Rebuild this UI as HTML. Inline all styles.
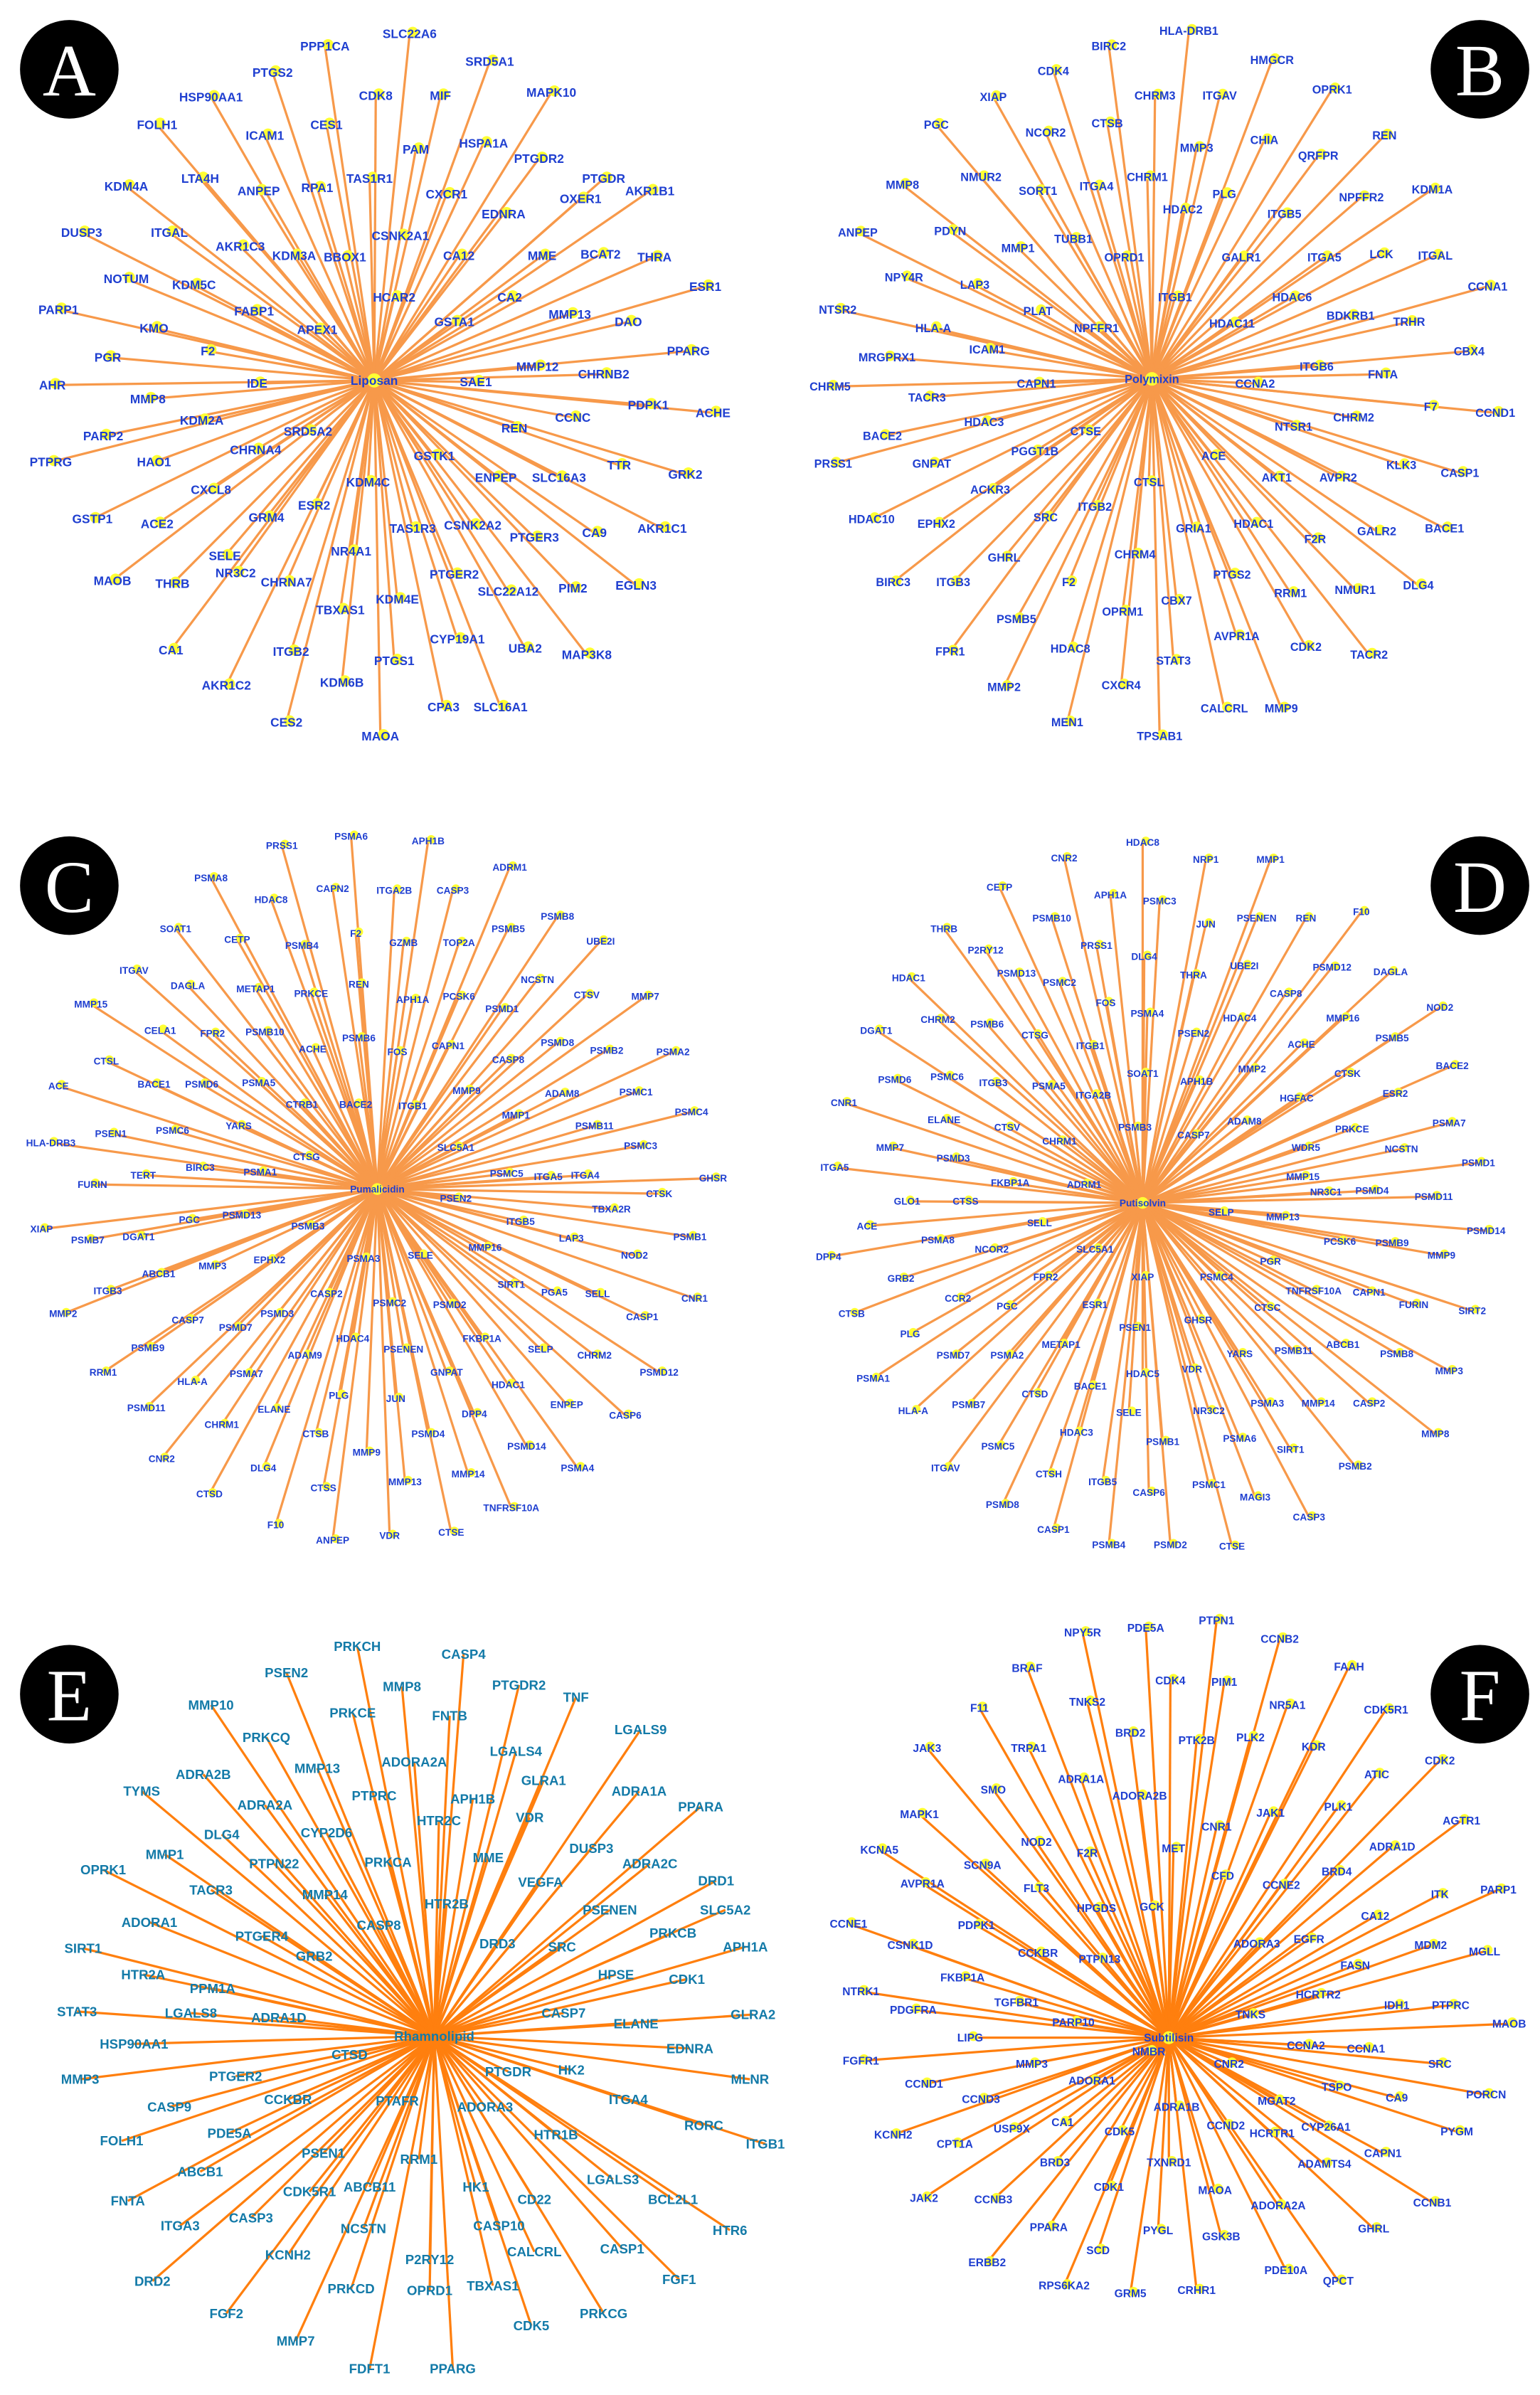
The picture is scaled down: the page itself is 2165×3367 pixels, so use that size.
<!DOCTYPE html>
<html><head><meta charset="utf-8"><style>
html,body{margin:0;padding:0;background:#fff}
svg{display:block}
</style></head><body>
<svg id="s" xmlns="http://www.w3.org/2000/svg" width="2165" height="3367" viewBox="0 0 1000 1555" preserveAspectRatio="none">
<rect width="1000" height="1555" fill="#fff"/>
<g id="L"></g><g id="N"></g><g id="T" font-family="Liberation Sans, Arial, sans-serif" font-weight="bold" text-anchor="middle"></g>
</svg>
<script>
var P=[
{h:[243,247],name:"Liposan",fs:8,col:"#1f3fd0",lc:"#f7994a",r:3.6,d:"PPP1CA 211,30;SLC22A6 266,22;PTGS2 177,47;CDK8 244,62;MIF 286,62;SRD5A1 318,40;MAPK10 358,60;HSP90AA1 137,63;CES1 212,81;ICAM1 172,88;PAM 270,97;HSPA1A 314,93;PTGDR 392,116;FOLH1 102,81;LTA4H 130,116;ANPEP 168,124;RPA1 206,122;TAS1R1 240,116;CXCR1 290,126;PTGDR2 350,103;OXER1 377,129;AKR1B1 422,124;KDM4A 82,121;ITGAL 110,151;AKR1C3 156,160;KDM3A 191,166;BBOX1 224,167;CSNK2A1 260,153;CA12 298,166;EDNRA 327,139;MME 352,166;BCAT2 390,165;THRA 425,167;DUSP3 53,151;NOTUM 82,181;KDM5C 126,185;FABP1 165,202;APEX1 206,214;HCAR2 256,193;GSTA1 295,209;CA2 331,193;MMP13 370,204;ESR1 458,186;DAO 408,209;PARP1 38,201;KMO 100,213;F2 135,228;PPARG 447,228;MMP12 349,238;CHRNB2 392,243;PGR 70,232;IDE 167,249;SAE1 309,248;PDPK1 421,263;ACHE 463,268;AHR 34,250;MMP8 96,259;KDM2A 131,273;SRD5A2 200,280;CCNC 372,271;REN 334,278;PARP2 67,283;HAO1 100,300;CHRNA4 166,292;TTR 402,302;GRK2 445,308;PTPRG 33,300;CXCL8 137,318;ESR2 204,328;KDM4C 239,313;GSTK1 282,296;ENPEP 322,310;SLC16A3 363,310;GSTP1 60,337;ACE2 102,340;GRM4 173,336;TAS1R3 268,343;CSNK2A2 307,341;CA9 386,346;AKR1C1 430,343;SELE 146,361;NR4A1 228,358;PTGER3 347,349;PIM2 372,382;EGLN3 413,380;MAOB 73,377;THRB 112,379;NR3C2 153,372;CHRNA7 186,378;KDM4E 258,389;PTGER2 295,373;SLC22A12 330,384;TBXAS1 221,396;CYP19A1 297,415;UBA2 341,421;MAP3K8 381,425;CA1 111,422;ITGB2 189,423;PTGS1 256,429;KDM6B 222,443;AKR1C2 147,445;CPA3 288,459;SLC16A1 325,459;CES2 186,469;MAOA 247,478"},
{h:[748,246],name:"Polymixin",fs:7.5,col:"#1f3fd0",lc:"#f7994a",r:3.4,d:"HLA-DRB1 772,20;BIRC2 720,30;CDK4 684,46;CHRM3 750,62;ITGAV 792,62;HMGCR 826,39;OPRK1 865,58;XIAP 645,63;CTSB 719,80;MMP3 777,96;CHIA 821,91;REN 899,88;PGC 608,81;NCOR2 679,86;CHRM1 745,115;ITGA4 712,121;PLG 795,126;QRFPR 856,101;NPFFR2 884,128;NMUR2 637,115;SORT1 674,124;HDAC2 768,136;ITGB5 834,139;KDM1A 930,123;MMP8 586,120;MMP1 661,161;TUBB1 697,155;GALR1 806,167;ITGA5 860,167;LCK 897,165;ITGAL 932,166;PDYN 617,150;OPRD1 730,167;HDAC6 839,193;ANPEP 557,151;NPY4R 587,180;LAP3 633,185;ITGB1 763,193;HDAC11 800,210;BDKRB1 877,205;CCNA1 966,186;PLAT 674,202;TRHR 915,209;NTSR2 544,201;HLA-A 606,213;NPFFR1 712,213;CBX4 954,228;ICAM1 641,227;ITGB6 855,238;FNTA 898,243;MRGPRX1 576,232;CAPN1 673,249;CCNA2 815,249;F7 929,264;CCND1 971,268;CHRM5 539,251;TACR3 602,258;HDAC3 639,274;NTSR1 840,277;CHRM2 879,271;BACE2 573,283;CTSE 705,280;KLK3 910,302;CASP1 948,307;PGGT1B 672,293;ACE 788,296;AKT1 829,310;AVPR2 869,310;PRSS1 541,301;GNPAT 605,301;ACKR3 643,318;CTSL 746,313;BACE1 938,343;ITGB2 711,329;HDAC1 814,340;GALR2 894,345;HDAC10 566,337;EPHX2 608,340;SRC 679,336;GRIA1 775,343;F2R 854,350;CHRM4 737,360;DLG4 921,380;BIRC3 580,378;ITGB3 619,378;GHRL 652,362;F2 694,378;PTGS2 800,373;RRM1 838,385;NMUR1 880,383;CBX7 764,390;AVPR1A 803,413;PSMB5 660,402;HDAC8 695,421;OPRM1 729,397;CDK2 848,420;TACR2 889,425;FPR1 617,423;STAT3 762,429;MMP2 652,446;CXCR4 728,445;CALCRL 795,460;MMP9 832,460;MEN1 693,469;TPSAB1 753,478"},
{h:[245,772],name:"Pumalicidin",fs:6.3,col:"#1f3fd0",lc:"#f7994a",r:2.8,d:"PSMA6 228,543;APH1B 278,546;PRSS1 183,549;ADRM1 331,563;PSMA8 137,570;CAPN2 216,577;ITGA2B 256,578;CASP3 294,578;HDAC8 176,584;PSMB8 362,595;F2 231,606;GZMB 262,612;TOP2A 298,612;PSMB5 330,603;UBE2I 390,611;SOAT1 114,603;PSMB4 196,614;CETP 154,610;REN 233,639;PCSK6 298,647;NCSTN 349,636;ITGAV 87,630;DAGLA 122,640;METAP1 166,642;PRKCE 202,645;APH1A 268,649;CTSV 381,646;MMP7 419,647;MMP15 59,652;CELA1 104,669;FPR2 138,671;PSMB10 172,670;ACHE 203,681;PSMB6 233,674;FOS 258,683;CAPN1 291,679;PSMD1 326,655;PSMD8 362,677;PSMB2 394,682;PSMA2 437,683;CTSL 69,689;BACE1 100,704;PSMD6 131,704;PSMA5 168,703;MMP9 303,708;CASP8 330,688;ADAM8 365,710;PSMC1 413,709;CTRB1 196,717;BACE2 231,717;ITGB1 268,718;MMP1 335,724;PSMB11 386,731;PSMC4 449,722;ACE 38,705;PSEN1 72,736;PSMC6 112,734;YARS 155,731;CTSG 199,751;SLC5A1 296,745;PSMC3 416,744;HLA-DRB3 33,742;BIRC3 130,758;PSMA1 169,761;PSMC5 329,762;ITGA5 356,764;ITGA4 380,763;GHSR 463,765;FURIN 60,769;TERT 93,763;PSEN2 296,778;TBXA2R 397,785;CTSK 428,775;XIAP 27,798;PSMB7 57,805;DGAT1 90,803;PGC 123,792;PSMD13 157,789;PSMB3 200,796;ITGB5 338,793;LAP3 371,804;PSMB1 448,803;ITGB3 70,838;ABCB1 103,827;MMP3 138,822;EPHX2 175,818;PSMA3 236,817;SELE 273,815;MMP16 315,810;NOD2 412,815;SIRT1 332,834;PGA5 360,839;SELL 388,840;CNR1 451,843;MMP2 41,853;CASP7 122,857;PSMD7 153,862;CASP2 212,840;PSMD3 180,853;PSMC2 253,846;PSMD2 292,847;CASP1 417,855;PSMB9 96,875;HDAC4 229,869;PSENEN 262,876;FKBP1A 313,869;SELP 351,876;CHRM2 386,880;PSMD12 428,891;RRM1 67,891;HLA-A 125,897;PSMA7 160,892;ADAM9 198,880;GNPAT 290,891;HDAC1 330,899;ENPEP 368,912;CASP6 406,919;PSMD11 95,914;CHRM1 144,925;ELANE 178,915;PLG 220,906;JUN 257,908;DPP4 308,918;CTSB 205,931;PSMD4 278,931;PSMD14 342,939;CNR2 105,947;DLG4 171,953;MMP9 238,943;CTSS 210,966;MMP13 263,962;MMP14 304,957;PSMA4 375,953;CTSD 136,970;F10 179,990;ANPEP 216,1000;VDR 253,997;CTSE 293,995;TNFRSF10A 332,979"},
{h:[742,781],name:"Putisolvin",fs:6.3,col:"#1f3fd0",lc:"#f7994a",r:2.8,d:"HDAC8 742,547;CNR2 691,557;NRP1 783,558;MMP1 825,558;APH1A 721,581;PSMC3 753,585;CETP 649,576;JUN 783,600;PSENEN 816,596;REN 848,596;F10 884,592;THRB 613,603;PSMB10 683,596;P2RY12 640,617;PRSS1 712,614;DLG4 743,621;PSMD12 865,628;DAGLA 903,631;PSMD13 660,632;PSMC2 688,638;THRA 775,633;UBE2I 808,627;NOD2 935,654;HDAC1 590,635;CASP8 835,645;MMP16 872,661;CHRM2 609,662;PSMB6 641,665;FOS 718,651;HDAC4 805,661;PSMB5 904,674;DGAT1 569,669;CTSG 672,672;ITGB1 708,679;PSMA4 745,658;PSEN2 775,671;MMP2 813,694;ACHE 845,678;BACE2 943,692;PSMD6 581,701;PSMC6 615,699;ITGB3 645,703;PSMA5 681,705;SOAT1 742,697;APH1B 777,702;CTSK 875,697;ESR2 906,710;CNR1 548,716;ITGA2B 710,711;ADAM8 808,728;HGFAC 842,713;PSMA7 941,729;ELANE 613,727;CTSV 654,732;CHRM1 688,741;PSMB3 737,732;CASP7 775,737;PRKCE 878,733;MMP7 578,745;WDR5 848,745;NCSTN 910,746;PSMD1 960,755;PSMD3 619,752;FKBP1A 656,768;ADRM1 704,769;MMP15 846,764;PSMD4 891,773;PSMD11 931,777;ITGA5 542,758;NR3C1 861,774;GLO1 589,780;CTSS 627,780;SELP 793,787;MMP13 833,790;ACE 563,796;SELL 675,794;PCSK6 870,806;PSMB9 904,807;PSMD14 965,799;PSMA8 609,805;DPP4 538,816;NCOR2 644,811;SLC5A1 711,811;PGR 825,819;MMP9 936,815;GRB2 585,830;XIAP 742,829;PSMC4 790,829;TNFRSF10A 853,838;CAPN1 889,839;FPR2 679,829;CCR2 622,843;GHSR 778,857;CTSC 823,849;FURIN 918,847;SIRT2 956,851;CTSB 553,853;PGC 654,848;ESR1 711,847;PSEN1 737,862;YARS 805,879;ABCB1 872,873;PSMB8 907,879;PLG 591,866;PSMD7 619,880;PSMA2 654,880;METAP1 689,873;PSMB11 840,877;MMP3 941,890;PSMA1 567,895;BACE1 708,900;HDAC5 742,892;VDR 774,889;PSMA3 823,911;MMP14 856,911;CASP2 889,911;HLA-A 593,916;PSMB7 629,912;CTSD 672,905;SELE 733,917;NR3C2 785,916;SIRT1 838,941;MMP8 932,931;PSMC5 648,939;HDAC3 699,930;PSMB1 755,936;PSMA6 805,934;PSMB2 880,952;ITGAV 614,953;CTSH 681,957;CASP6 746,969;PSMC1 785,964;MAGI3 815,972;CASP3 850,985;PSMD8 651,977;ITGB5 716,962;CASP1 684,993;PSMB4 720,1003;PSMD2 760,1003;CTSE 800,1004"},
{h:[282,1322],name:"Rhamnolipid",fs:8.6,col:"#137aa8",lc:"#ff7f0e",r:0,d:"PRKCH 232,1069;CASP4 301,1074;PSEN2 186,1086;MMP8 261,1095;PTGDR2 337,1094;MMP10 137,1107;TNF 374,1102;PRKCE 229,1112;FNTB 292,1114;PRKCQ 173,1128;MMP13 206,1148;LGALS4 335,1137;LGALS9 416,1123;ADRA2B 132,1152;ADORA2A 269,1144;ADRA2A 172,1172;PTPRC 243,1166;APH1B 307,1168;GLRA1 353,1156;TYMS 92,1163;HTR2C 285,1182;ADRA1A 415,1163;PPARA 455,1173;DLG4 144,1191;CYP2D6 212,1190;VDR 344,1180;MMP1 107,1204;PTPN22 178,1210;MME 317,1206;DUSP3 384,1200;OPRK1 67,1214;PRKCA 252,1209;ADRA2C 422,1210;MMP14 211,1230;VEGFA 351,1222;DRD1 465,1221;TACR3 137,1227;HTR2B 290,1236;PSENEN 396,1240;SLC5A2 471,1240;ADORA1 97,1248;CASP8 246,1250;PRKCB 437,1255;PTGER4 170,1257;DRD3 323,1262;SRC 365,1264;APH1A 484,1264;SIRT1 54,1265;GRB2 204,1270;HPSE 400,1282;HTR2A 93,1282;PPM1A 138,1291;CDK1 446,1285;STAT3 50,1306;LGALS8 124,1307;ADRA1D 181,1310;CASP7 366,1307;GLRA2 489,1308;ELANE 413,1314;HSP90AA1 87,1327;CTSD 227,1334;EDNRA 448,1330;MMP3 52,1350;PTGER2 153,1348;PTGDR 330,1345;HK2 371,1344;MLNR 487,1350;CASP9 110,1368;CCKBR 187,1363;PTAFR 258,1364;ADORA3 315,1368;ITGA4 408,1363;RORC 457,1380;FOLH1 79,1390;PDE5A 149,1385;HTR1B 361,1386;ITGB1 497,1392;ABCB1 130,1410;PSEN1 210,1398;RRM1 272,1402;HK1 309,1420;LGALS3 398,1415;FNTA 83,1429;CDK5R1 201,1423;ABCB11 240,1420;CD22 347,1428;BCL2L1 437,1428;ITGA3 117,1445;CASP3 163,1440;KCNH2 187,1464;NCSTN 236,1447;CASP10 324,1445;CASP1 404,1460;HTR6 474,1448;CALCRL 347,1462;P2RY12 279,1467;DRD2 99,1481;PRKCD 228,1486;OPRD1 279,1487;TBXAS1 320,1484;FGF1 441,1480;FGF2 147,1502;PRKCG 392,1502;CDK5 345,1510;MMP7 192,1520;FDFT1 240,1538;PPARG 294,1538"},
{h:[759,1323],name:"Subtilisin",fs:7.2,col:"#1f3fd0",lc:"#ff7f0e",r:3.2,d:"NPY5R 703,1060;PDE5A 744,1057;PTPN1 790,1052;CCNB2 831,1064;BRAF 667,1083;CDK4 760,1091;PIM1 795,1092;FAAH 876,1082;TNKS2 706,1105;NR5A1 836,1107;CDK5R1 900,1110;F11 636,1109;BRD2 734,1125;PLK2 812,1128;KDR 853,1134;TRPA1 668,1135;PTK2B 777,1130;CDK2 935,1143;JAK3 602,1135;ADRA1A 702,1155;ATIC 894,1152;SMO 645,1162;ADORA2B 740,1166;PLK1 869,1173;JAK1 825,1177;AGTR1 949,1182;MAPK1 597,1178;NOD2 673,1196;CNR1 790,1186;F2R 706,1203;MET 762,1200;ADRA1D 904,1199;KCNA5 571,1201;SCN9A 638,1211;CFD 794,1218;BRD4 868,1215;CCNE2 832,1224;ITK 935,1230;PARP1 973,1227;AVPR1A 599,1223;FLT3 673,1226;HPGDS 712,1239;GCK 748,1238;CA12 893,1244;CCNE1 551,1249;PDPK1 634,1250;EGFR 850,1259;ADORA3 816,1262;MDM2 929,1263;MGLL 964,1267;CSNK1D 591,1263;CCKBR 674,1268;PTPN13 714,1272;FASN 880,1276;NTRK1 559,1293;FKBP1A 625,1284;TGFBR1 660,1300;HCRTR2 856,1295;IDH1 907,1302;PTPRC 942,1302;PDGFRA 593,1305;TNKS 812,1308;MAOB 980,1314;PARP10 697,1313;LIPG 630,1323;CCNA2 848,1328;CCNA1 887,1330;FGFR1 559,1338;NMBR 746,1332;SRC 935,1340;MMP3 670,1340;CNR2 798,1340;PORCN 965,1360;CCND1 600,1353;ADORA1 709,1351;TSPO 868,1355;CA9 907,1362;CCND3 637,1363;MGAT2 829,1364;ADRA1B 764,1368;CA1 690,1378;CYP26A1 861,1381;PYGM 946,1384;KCNH2 580,1386;USP9X 657,1382;HCRTR1 826,1385;CCND2 796,1380;CPT1A 620,1392;CDK5 727,1384;CAPN1 898,1398;BRD3 685,1404;TXNRD1 759,1404;ADAMTS4 860,1405;JAK2 600,1427;CCNB3 645,1428;CDK1 720,1420;MAOA 789,1422;CCNB1 930,1430;ADORA2A 830,1432;GHRL 892,1447;PPARA 681,1446;PYGL 752,1448;GSK3B 793,1452;SCD 713,1461;ERBB2 641,1469;PDE10A 835,1474;QPCT 869,1481;RPS6KA2 691,1484;GRM5 734,1489;CRHR1 777,1487"}
];
var NS="http://www.w3.org/2000/svg",L=document.getElementById("L"),N=document.getElementById("N"),T=document.getElementById("T");
function el(t,a,p){var e=document.createElementNS(NS,t);for(var k in a)e.setAttribute(k,a[k]);p.appendChild(e);return e;}
P.forEach(function(p){
 var hx=p.h[0],hy=p.h[1];
 p.d.split(";").forEach(function(s){
  var m=s.match(/^(\S+) (\d+),(\d+)$/);if(!m)return;
  var x=+m[2],y=+m[3];
  el("line",{x1:hx,y1:hy,x2:x,y2:y,stroke:p.lc,"stroke-width":1.5},L);
  if(p.r)el("circle",{cx:x+2,cy:y-1,r:p.r,fill:"#ffff33"},N);
  var t=el("text",{x:x,y:y+p.fs*0.35,"font-size":p.fs,fill:p.col},T);t.textContent=m[1];
 });
 if(p.r)el("circle",{cx:hx,cy:hy,r:p.r+1,fill:"#ffff33"},N);
 var t=el("text",{x:hx,y:hy+p.fs*0.35,"font-size":p.fs,fill:p.col},T);t.textContent=p.name;
});
[["A",45,45],["B",961,45],["C",45,575],["D",961,575],["E",45,1100],["F",961,1100]].forEach(function(c){
 el("circle",{cx:c[1],cy:c[2],r:32,fill:"#000"},T);
 var t=el("text",{x:c[1],y:c[2]+17,"font-size":48,fill:"#fff","font-family":"Liberation Serif, serif","font-weight":"normal"},T);t.textContent=c[0];
});
</script>
</body></html>
